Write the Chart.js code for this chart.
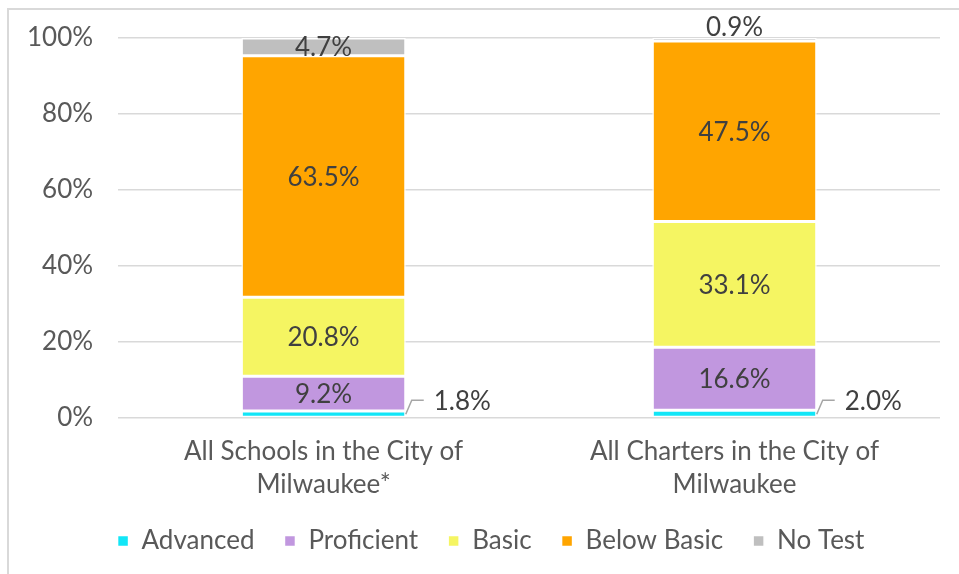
<!DOCTYPE html>
<html>
<head>
<meta charset="utf-8">
<script src="https://cdn.jsdelivr.net/npm/chart.js@4.4.1/dist/chart.umd.min.js"></script>
<style>
  html, body { margin: 0; padding: 0; background: #fff; overflow: hidden; }
  #frame { position: absolute; left: 7px; top: 8px; width: 980px; height: 600px;
           border-left: 2px solid #d9d9d9; border-top: 2px solid #d9d9d9; }
  #c { position: absolute; left: 0; top: 0; }
</style>
</head>
<body>
<div id="frame"></div>
<canvas id="c" width="959" height="574"></canvas>
<script>
const categories = [
  ["All Schools in the City of", "Milwaukee*"],
  ["All Charters in the City of", "Milwaukee"]
];
const advanced = [1.8, 2.0];
const proficient = [9.2, 16.6];
const basic = [20.8, 33.1];
const belowBasic = [63.5, 47.5];
const noTest = [4.7, 0.9];
const yTicks = [0, 20, 40, 60, 80, 100];

const FONT = "Lato, 'Open Sans', sans-serif";
const FS = 26;

// data labels drawn by hand, no datalabels plugin available
const labelPlugin = {
  id: 'segLabels',
  afterLayout(chart) {
    // legend sits a bit right of centre in the original
    if (chart.legend) {
      chart.legend.left += 20;
      chart.legend.right += 20;
    }
  },
  afterDatasetsDraw(chart) {
    const ctx = chart.ctx;
    ctx.save();
    ctx.font = FS + 'px ' + FONT;
    ctx.fillStyle = '#404040';
    ctx.textBaseline = 'middle';
    chart.data.datasets.forEach((ds, di) => {
      const meta = chart.getDatasetMeta(di);
      meta.data.forEach((bar, i) => {
        const v = ds.data[i];
        const txt = v.toFixed(1) + '%';
        const half = bar.width / 2;
        if (di === 0) {
          // leader line out to the right
          const x0 = bar.x + half, y0 = bar.base - 3;
          ctx.strokeStyle = '#a6a6a6';
          ctx.lineWidth = 1.5;
          ctx.beginPath();
          ctx.moveTo(x0, y0);
          ctx.lineTo(x0 + 6, y0 - 14);
          ctx.lineTo(x0 + 18, y0 - 14);
          ctx.stroke();
          ctx.textAlign = 'left';
          ctx.fillText(txt, x0 + 28, y0 - 13);
        } else if (v < 2) {
          ctx.textAlign = 'center';
          ctx.fillText(txt, bar.x, bar.y - 10);
        } else {
          ctx.textAlign = 'center';
          ctx.fillText(txt, bar.x, (bar.y + bar.base) / 2 + 1);
        }
      });
    });
    ctx.restore();
  }
};

function mk(label, data, color) {
  return {
    label: label,
    data: data,
    backgroundColor: color,
    borderColor: '#ffffff',
    borderWidth: 1.5,
    borderSkipped: false,
    categoryPercentage: 1,
    barPercentage: 0.4
  };
}

new Chart(document.getElementById('c'), {
  type: 'bar',
  data: {
    labels: categories,
    datasets: [
      mk('Advanced', advanced, '#12e6f7'),
      mk('Proficient', proficient, '#c197df'),
      mk('Basic', basic, '#f5f562'),
      mk('Below Basic', belowBasic, '#ffa500'),
      mk('No Test', noTest, '#bfbfbf')
    ]
  },
  options: {
    responsive: false,
    animation: false,
    layout: { padding: { top: 26, left: 2, right: 19, bottom: 10 } },
    plugins: {
      tooltip: { enabled: false },
      legend: {
        position: 'bottom',
        labels: {
          boxWidth: 11,
          boxHeight: 11,
          padding: 30,
          color: '#595959',
          font: { family: FONT, size: FS }
        }
      }
    },
    scales: {
      x: {
        stacked: true,
        grid: { display: false },
        border: { display: false },
        afterFit(axis) {
          // tighten the gap to the legend, and let the labels spill over
          axis.height -= 12;
          axis._computeLabelArea = () => undefined;
        },
        ticks: {
          color: '#595959',
          padding: 9,
          font: { family: FONT, size: FS, lineHeight: 1.27 }
        }
      },
      y: {
        stacked: true,
        min: 0,
        max: 100,
        afterBuildTicks(axis) {
          axis.ticks = yTicks.map(v => ({ value: v }));
        },
        grid: { color: '#d9d9d9', lineWidth: 1.5, drawTicks: false },
        border: { display: false },
        ticks: {
          color: '#595959',
          padding: 25,
          font: { family: FONT, size: FS, lineHeight: 1 },
          callback: v => v + '%'
        }
      }
    }
  },
  plugins: [labelPlugin]
});
</script>
</body>
</html>
